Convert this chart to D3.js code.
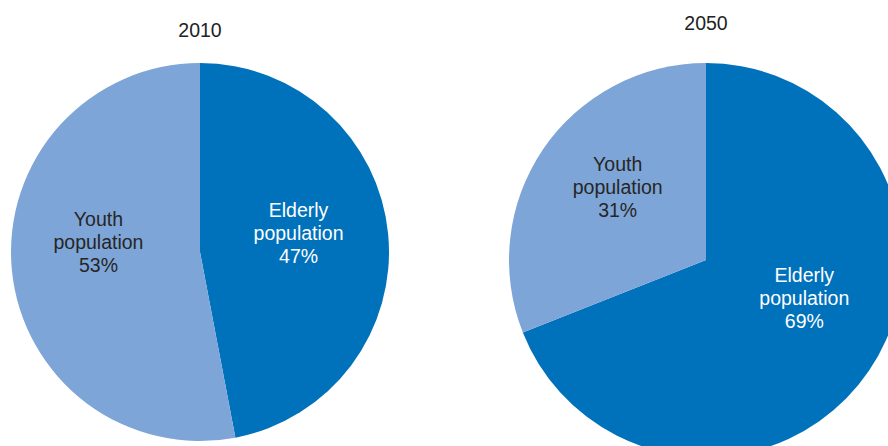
<!DOCTYPE html>
<html>
<head>
<meta charset="utf-8">
<script src="https://cdn.jsdelivr.net/npm/d3@7"></script>
<style>
  html, body { margin: 0; padding: 0; background: #fff; }
  svg { display: block; }
</style>
</head>
<body>
<svg id="chart" width="888" height="446"></svg>
<script>
// Population shares by age group, two reference years
const years = ["2010", "2050"];
const groups = ["Elderly population", "Youth population"];
const shares2010 = [47, 53];
const shares2050 = [69, 31];

const colors = ["#0071bb", "#7ea5d7"];
const labelColors = ["#ffffff", "#262626"];

// Layout for each pie: centre, radius, title baseline, label radius and label nudges
const pies = [
  { year: years[0], values: shares2010, cx: 200, cy: 252, r: 189, titleY: 37, labelR: 100,
    nudge: [[-1, -9], [-2, -18]] },
  { year: years[1], values: shares2050, cx: 706, cy: 260, r: 197, titleY: 30, labelR: 108,
    nudge: [[9, -22], [1, -11]] }
];

const svg = d3.select("#chart");
const fontFamily = "'Liberation Sans', Arial, Helvetica, sans-serif";
const fontSize = 19.5;
const lineGap = 23;

const pie = d3.pie().sort(null).value(d => d);

pies.forEach(p => {
  const g = svg.append("g").attr("transform", `translate(${p.cx},${p.cy})`);
  const arcs = pie(p.values);
  const arc = d3.arc().innerRadius(0).outerRadius(p.r);
  const labelArc = d3.arc().innerRadius(p.labelR).outerRadius(p.labelR);

  g.selectAll("path.slice")
    .data(arcs)
    .join("path")
    .attr("class", "slice")
    .attr("d", arc)
    .attr("fill", (d, i) => colors[i]);

  arcs.forEach((d, i) => {
    const [x, y] = labelArc.centroid(d);
    const cx = x + p.nudge[i][0];
    const cy = y + p.nudge[i][1];
    const words = groups[i].split(" ");
    const lines = [words[0], words[1], d.data + "%"];
    const t = g.append("text")
      .attr("text-anchor", "middle")
      .attr("font-family", fontFamily)
      .attr("font-size", fontSize)
      .attr("fill", labelColors[i]);
    lines.forEach((ln, k) => {
      t.append("tspan")
        .attr("x", cx)
        .attr("y", cy + 6 + (k - 1) * lineGap)
        .text(ln);
    });
  });

  svg.append("text")
    .attr("x", p.cx)
    .attr("y", p.titleY)
    .attr("text-anchor", "middle")
    .attr("font-family", fontFamily)
    .attr("font-size", fontSize)
    .attr("fill", "#222")
    .text(p.year);
});
</script>
</body>
</html>
